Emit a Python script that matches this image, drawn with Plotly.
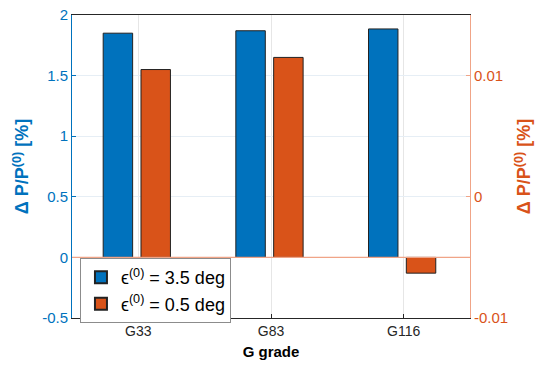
import plotly.graph_objects as go

categories = ["G33", "G83", "G116"]
blue_vals = [1.85, 1.87, 1.885]          # left axis, %
orange_vals = [0.0105, 0.0115, -0.0063]  # right axis
orange_base = -0.005                     # right-axis value where bars start (aligned with left 0)
left_ticks = [-0.5, 0, 0.5, 1, 1.5, 2]
right_ticks = [-0.01, 0, 0.01]

BLUE = "#0072BD"
ORANGE = "#D95319"
FONT = "Liberation Sans, Arial, sans-serif"

xpos = [1, 2, 3]

fig = go.Figure()
fig.add_trace(go.Bar(
    x=xpos, y=blue_vals, name="ϵ<sup>(0)</sup> = 3.5 deg",
    marker=dict(color=BLUE, line=dict(color="#222222", width=1)),
    width=0.222, offset=-0.265, yaxis="y",
))
fig.add_trace(go.Bar(
    x=xpos, y=[v - orange_base for v in orange_vals], base=orange_base,
    name="ϵ<sup>(0)</sup> = 0.5 deg",
    marker=dict(color=ORANGE, line=dict(color="#222222", width=1)),
    width=0.222, offset=0.02, yaxis="y2",
))

fig.add_shape(type="line", xref="paper", x0=0, x1=1, yref="y", y0=0, y1=0,
              line=dict(color="#F0A487", width=1.3), layer="above")

fig.update_layout(
    width=545, height=367,
    margin=dict(l=72, r=75, t=15, b=49, autoexpand=False),
    paper_bgcolor="white", plot_bgcolor="white",
    font=dict(family=FONT, size=13, color="#262626"),
    barmode="overlay",
    showlegend=True,
    legend=dict(
        x=0.02, y=-0.017, xanchor="left", yanchor="bottom",
        bgcolor="white", bordercolor="#8c8c8c", borderwidth=1,
        font=dict(size=18, color="#000000"),
        tracegroupgap=0, itemsizing="constant",
    ),
    xaxis=dict(
        range=[0.5, 3.5], tickvals=xpos, ticktext=categories,
        showline=True, linecolor="#262626", linewidth=1, mirror=True,
        showgrid=True, gridcolor="#E6E6E6", gridwidth=1,
        ticks="inside", ticklen=4, tickcolor="#262626",
        zeroline=False, automargin=False,
        title=dict(text="<b>G grade</b>", font=dict(size=15, color="#000000"), standoff=8),
        tickfont=dict(size=14, color="#262626"),
    ),
    yaxis=dict(
        range=[-0.5, 2], tickvals=left_ticks,
        ticktext=[("%g" % t) for t in left_ticks],
        showline=True, linecolor=BLUE, linewidth=1,
        showgrid=True, gridcolor="#E6EEF5", gridwidth=1,
        ticks="inside", ticklen=4, tickcolor=BLUE,
        zeroline=False, automargin=False,
        tickfont=dict(size=15, color=BLUE),
        title=dict(text="<b>Δ P/P<sup>(0)</sup> [%]</b>", font=dict(size=18, color=BLUE), standoff=8),
    ),
    yaxis2=dict(
        range=[-0.01, 0.015], tickvals=right_ticks,
        ticktext=["-0.01", "0", "0.01"],
        overlaying="y", side="right", anchor="x",
        showline=True, linecolor="#F0A487", linewidth=1,
        showgrid=False, zeroline=False, automargin=False,
        ticks="inside", ticklen=4, tickcolor="#F0A487",
        tickfont=dict(size=15, color=ORANGE),
        title=dict(text="<b>Δ P/P<sup>(0)</sup> [%]</b>", font=dict(size=18, color=ORANGE), standoff=10),
    ),
)

fig.write_html("out.html")
